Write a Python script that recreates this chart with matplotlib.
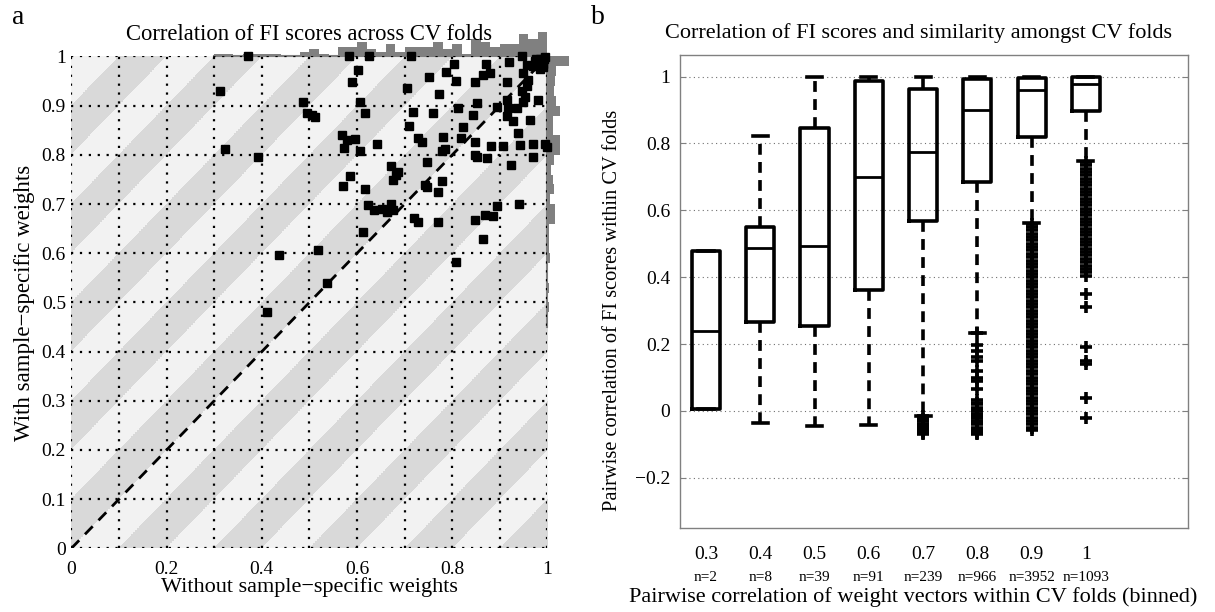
import matplotlib
matplotlib.use("Agg")
import matplotlib.pyplot as plt
from matplotlib.colors import ListedColormap
import numpy as np

plt.rcParams['font.family'] = ['Liberation Serif', 'DejaVu Serif']

#### panel a: FI score correlation, without vs with weights ####
x_nw = [0.371, 0.312, 0.322, 0.391, 0.486, 0.495, 0.505, 0.512, 0.584, 0.601,
        0.589, 0.626, 0.607, 0.617, 0.568, 0.578, 0.596, 0.572, 0.606, 0.641,
        0.585, 0.570, 0.617, 0.671, 0.687, 0.682, 0.675, 0.622, 0.636, 0.652,
        0.662, 0.671, 0.675, 0.612, 0.517, 0.436, 0.536, 0.410, 0.713, 0.704,
        0.752, 0.718, 0.760, 0.710, 0.773, 0.787, 0.804, 0.808, 0.729, 0.736,
        0.780, 0.778, 0.785, 0.746, 0.742, 0.746, 0.778, 0.771, 0.720, 0.729,
        0.771, 0.808, 0.813, 0.823, 0.819, 0.848, 0.848, 0.851, 0.872, 0.844,
        0.851, 0.848, 0.871, 0.865, 0.879, 0.882, 0.907, 0.848, 0.869, 0.886,
        0.893, 0.865, 0.923, 0.941, 0.893, 0.914, 0.914, 0.918, 0.927, 0.935,
        0.949, 0.953, 0.946, 0.956, 0.960, 0.963, 0.981, 0.939, 0.914, 0.920,
        0.946, 0.949, 0.956, 0.974, 0.984, 0.995, 0.991, 0.970, 0.969, 0.995,
        0.998, 0.942, 0.980, 0.990, 0.975, 0.985, 0.992, 0.970]
y_w = [1.000, 0.929, 0.812, 0.796, 0.908, 0.885, 0.881, 0.877, 1.000, 0.973,
       0.949, 1.000, 0.908, 0.885, 0.841, 0.830, 0.832, 0.814, 0.807, 0.823,
       0.758, 0.737, 0.731, 0.778, 0.766, 0.759, 0.748, 0.698, 0.688, 0.689,
       0.684, 0.701, 0.688, 0.643, 0.607, 0.596, 0.539, 0.480, 1.000, 0.935,
       0.959, 0.888, 0.885, 0.859, 0.924, 0.969, 0.984, 0.950, 0.834, 0.827,
       0.837, 0.808, 0.811, 0.786, 0.739, 0.735, 0.746, 0.724, 0.671, 0.664,
       0.664, 0.583, 0.896, 0.857, 0.834, 0.827, 0.800, 0.796, 0.793, 0.881,
       0.905, 0.949, 0.984, 0.962, 0.966, 0.818, 0.818, 0.668, 0.678, 0.675,
       0.695, 0.628, 0.779, 0.701, 0.898, 0.912, 0.878, 0.895, 0.868, 0.895,
       0.908, 0.918, 0.929, 0.939, 0.952, 0.871, 0.912, 0.844, 0.949, 0.988,
       1.000, 0.966, 0.983, 0.990, 0.994, 0.998, 0.979, 0.823, 0.796, 0.823,
       0.816, 0.820, 0.990, 0.985, 0.995, 0.975, 0.995, 0.980]

x_ticks_a = [0, 0.2, 0.4, 0.6, 0.8, 1]
x_ticklabels_a = ['0', '0.2', '0.4', '0.6', '0.8', '1']
y_ticks_a = [0, 0.1, 0.2, 0.3, 0.4, 0.5, 0.6, 0.7, 0.8, 0.9, 1]
y_ticklabels_a = ['0', '0.1', '0.2', '0.3', '0.4', '0.5', '0.6', '0.7', '0.8', '0.9', '1']

#### panel b: box plot summary per bin ####
bins = ['0.3', '0.4', '0.5', '0.6', '0.7', '0.8', '0.9', '1']
n_counts = [2, 8, 39, 91, 239, 966, 3952, 1093]
q1 = [0.005, 0.266, 0.254, 0.362, 0.569, 0.686, 0.819, 0.898]
med = [0.240, 0.488, 0.492, 0.700, 0.775, 0.900, 0.959, 0.979]
q3 = [0.477, 0.549, 0.847, 0.986, 0.964, 0.992, 0.997, 1.000]
whis_lo = [0.005, -0.037, -0.046, -0.043, -0.016, 0.234, 0.561, 0.748]
whis_hi = [0.477, 0.823, 1.000, 1.000, 1.000, 1.000, 1.000, 1.000]
fliers_07 = [-0.016, -0.025, -0.03, -0.04, -0.045, -0.05, -0.055, -0.06, -0.065, -0.07]
fliers_08 = [0.234, 0.196, 0.18, 0.16, 0.15, 0.12, 0.10, 0.09, 0.067, 0.032,
             0.025, 0.02, 0.01, 0.005, 0.0, -0.01, -0.015, -0.02, -0.03, -0.035,
             -0.04, -0.05, -0.055, -0.06, -0.065, -0.07]
fliers_09 = [0.56, 0.55, 0.54, 0.53, 0.52, 0.51, 0.50, 0.49, 0.48, 0.47,
             0.46, 0.45, 0.44, 0.43, 0.42, 0.41, 0.40, 0.39, 0.38, 0.37,
             0.36, 0.35, 0.34, 0.33, 0.32, 0.31, 0.30, 0.29, 0.28, 0.27,
             0.26, 0.25, 0.24, 0.23, 0.22, 0.21, 0.20, 0.19, 0.18, 0.17,
             0.16, 0.15, 0.14, 0.13, 0.12, 0.11, 0.10, 0.09, 0.08, 0.07,
             0.06, 0.05, 0.04, 0.03, 0.02, 0.01, 0.0, -0.01, -0.02, -0.03,
             -0.04, -0.05, -0.058]
fliers_1 = [0.745, 0.735, 0.725, 0.715, 0.705, 0.695, 0.685, 0.675, 0.665, 0.655,
            0.645, 0.635, 0.625, 0.615, 0.605, 0.595, 0.585, 0.575, 0.565, 0.555,
            0.545, 0.535, 0.525, 0.515, 0.505, 0.495, 0.485, 0.475, 0.465, 0.455,
            0.445, 0.435, 0.425, 0.415, 0.405, 0.35, 0.31, 0.19, 0.15, 0.14,
            0.04, -0.02]
fliers = [[], [], [], [], fliers_07, fliers_08, fliers_09, fliers_1]

y_ticks_b = [-0.2, 0, 0.2, 0.4, 0.6, 0.8, 1]
y_ticklabels_b = ['\u22120.2', '0', '0.2', '0.4', '0.6', '0.8', '1']

######################### plot ####################
fig = plt.figure(figsize=(12.15, 6.12), dpi=100)

# ---- panel a ----
ax = fig.add_axes([0.0588, 0.1041, 0.3918, 0.8036])
gx, gy = np.meshgrid(np.linspace(0, 1, 1200), np.linspace(0, 1, 1200))
stripes = (np.floor((gy - gx) / 0.1) % 2 == 0).astype(int)
ax.imshow(stripes, extent=(0, 1, 0, 1), origin='lower', aspect='auto',
          cmap=ListedColormap(['#f2f2f2', '#d9d9d9']), interpolation='nearest', zorder=0)

ax.set_xticks(x_ticks_a)
ax.set_xticklabels(x_ticklabels_a)
ax.set_xticks(np.arange(0.1, 1.0, 0.2), minor=True)
ax.set_yticks(y_ticks_a)
ax.set_yticklabels(y_ticklabels_a)
ax.grid(True, which='both', color='k', linestyle=(0, (1, 3)), linewidth=1.6, zorder=1)
ax.set_axisbelow(False)
ax.tick_params(which='both', length=0, labelsize=14)
ax.tick_params(axis='x', pad=9)
ax.tick_params(axis='y', pad=4)
for s in ax.spines.values():
    s.set_visible(False)

ax.plot([0, 1], [0, 1], color='k', linestyle=(0, (4, 3)), linewidth=2, zorder=2)
ax.plot(x_nw, y_w, 's', color='k', markersize=5.5, zorder=3, clip_on=False)

# marginal histograms outside the box
edges = np.linspace(0, 1, 51)
cx, _ = np.histogram(x_nw, bins=edges)
cy, _ = np.histogram(y_w, bins=edges)
ax.stairs(1 + cx * 0.05 / cx.max(), edges, baseline=1, fill=True, color='#808080',
          clip_on=False, zorder=2)
ax.stairs(1 + cy * 0.045 / cy.max(), edges, baseline=1, fill=True, color='#808080',
          orientation='horizontal', clip_on=False, zorder=2)
ax.plot([0.3, 1], [1, 1], color='#808080', linewidth=1.5, zorder=2, clip_on=False)
ax.plot([1, 1], [0.45, 1], color='#808080', linewidth=1.5, zorder=2, clip_on=False)

ax.set_xlim(0, 1)
ax.set_ylim(0, 1)
ax.set_xlabel('Without sample\u2212specific weights', fontsize=16)
ax.xaxis.set_label_coords(0.5, -0.058)
ax.set_ylabel('With sample\u2212specific weights', fontsize=16.5, labelpad=5)
ax.set_title('Correlation of FI scores across CV folds', fontsize=16.3, pad=12)

# ---- panel b ----
bx = fig.add_axes([0.5597, 0.1373, 0.418, 0.773])
stats = []
for i in range(len(bins)):
    stats.append({'med': med[i], 'q1': q1[i], 'q3': q3[i],
                  'whislo': whis_lo[i], 'whishi': whis_hi[i], 'fliers': fliers[i]})
pos = np.arange(1, len(bins) + 1)
bx.bxp(stats, positions=pos, widths=0.52, capwidths=0.28, showfliers=True,
       boxprops=dict(color='k', linewidth=2.6),
       medianprops=dict(color='k', linewidth=2),
       whiskerprops=dict(color='k', linewidth=2.6, linestyle=(0, (3, 2))),
       capprops=dict(color='k', linewidth=2.6),
       flierprops=dict(marker='+', markeredgecolor='k', markersize=8, markeredgewidth=2.6))

bx.set_xlim(0.52, 9.88)
bx.set_ylim(-0.35, 1.065)
bx.set_yticks(y_ticks_b)
bx.set_yticklabels(y_ticklabels_b)
bx.set_xticks(pos)
bx.set_xticklabels(bins)
bx.yaxis.grid(True, color='#707070', linestyle=(0, (1, 3)), linewidth=0.8)
bx.set_axisbelow(True)
bx.tick_params(axis='x', length=0, pad=13, labelsize=14)
bx.tick_params(axis='y', direction='in', length=4, color='#808080', right=True, labelsize=14, pad=7)
for s in bx.spines.values():
    s.set_color('#808080')
    s.set_linewidth(1)
for p, n in zip(pos, n_counts):
    bx.text(p, -0.104, 'n=%d' % n, transform=bx.get_xaxis_transform(),
            ha='center', va='center', fontsize=11)
bx.set_xlabel('Pairwise correlation of weight vectors within CV folds (binned)', fontsize=16)
bx.xaxis.set_label_coords(0.459, -0.125)
bx.set_ylabel('Pairwise correlation of FI scores within CV folds', fontsize=14.7)
bx.yaxis.set_label_coords(-0.115, 0.46)
bx.set_title('Correlation of FI scores and similarity amongst CV folds', fontsize=16, x=0.469, pad=12)

fig.text(18 / 1215, 1 - 18 / 612, 'a', fontsize=20, ha='center', va='center')
fig.text(598 / 1215, 1 - 18 / 612, 'b', fontsize=20, ha='center', va='center')

plt.savefig('out.png', dpi=100)
